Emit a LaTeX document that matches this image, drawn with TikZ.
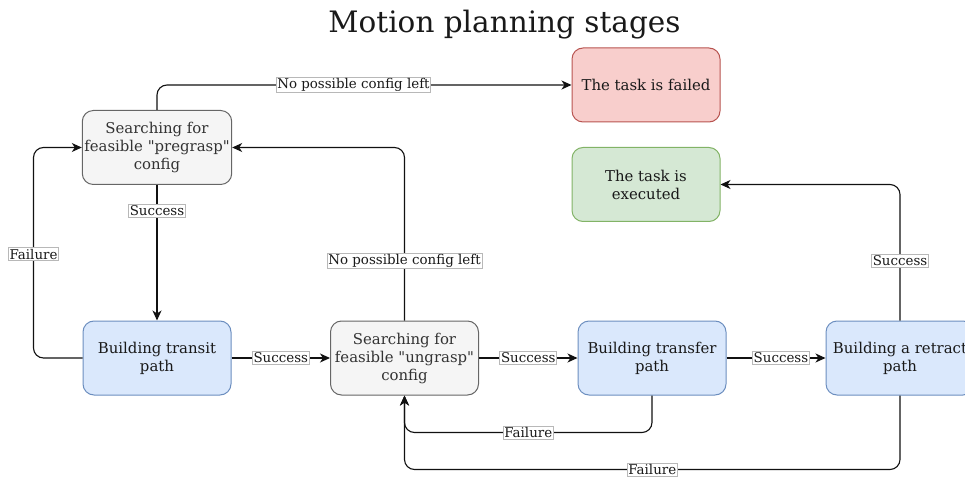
\documentclass[tikz,border=0pt]{standalone}
\usepackage{fontspec}
\setmainfont{DejaVu Serif}[Ligatures=TeXOff]
\usetikzlibrary{arrows.meta,positioning}

\definecolor{greyfill}{HTML}{F5F5F5}
\definecolor{greyline}{HTML}{666666}
\definecolor{greytext}{HTML}{333333}
\definecolor{bluefill}{HTML}{DAE8FC}
\definecolor{blueline}{HTML}{6C8EBF}
\definecolor{redfill}{HTML}{F8CECC}
\definecolor{redline}{HTML}{B85450}
\definecolor{greenfill}{HTML}{D5E8D4}
\definecolor{greenline}{HTML}{82B366}
\definecolor{edgeline}{HTML}{111111}
\definecolor{lblline}{HTML}{B8B8B8}

\tikzset{
  box/.style={draw, rounded corners=11pt, line width=1pt, minimum width=148pt,
    minimum height=74pt, align=center, inner sep=2pt,
    font=\fontsize{14.9pt}{18pt}\selectfont},
  searchbox/.style={box, fill=greyfill, draw=greyline, text=greytext},
  pathbox/.style={box, fill=bluefill, draw=blueline, text=black!90},
  failbox/.style={box, fill=redfill, draw=redline, text=black!90},
  donebox/.style={box, fill=greenfill, draw=greenline, text=black!90},
  flow/.style={draw=edgeline, line width=1.1pt, rounded corners=10pt,
    -{Stealth[length=10pt,width=9pt,inset=3pt]}},
  lbl/.style={fill=white, draw=lblline, line width=0.7pt, inner sep=1.2pt,
    sharp corners, text=black!90, font=\fontsize{13.4pt}{15pt}\selectfont}
}

\begin{document}
\begin{tikzpicture}[x=1pt,y=1pt]
  \useasboundingbox (0,0) rectangle (965,477);
  \clip (0,0) rectangle (965,477);

  \node[font=\fontsize{29.5pt}{33pt}\selectfont, text=black!90] (title) at (504.5,452) {Motion planning stages};

  % stage boxes
  \node[searchbox] (pregrasp) at (157,329.5) {Searching for\\feasible "pregrasp"\\config};
  \node[failbox]   (failed)   at (646,392)   {The task is failed};
  \node[donebox]   (executed) at (646,292.5) {The task is\\executed};
  \node[pathbox]   (transit)  at (157,119)   {Building transit\\path};
  \node[searchbox] (ungrasp)  at (404.5,119) {Searching for\\feasible "ungrasp"\\config};
  \node[pathbox]   (transfer) at (652,119)   {Building transfer\\path};
  \node[pathbox]   (retract)  at (900,119)   {Building a retract\\path};

  % transitions between stages
  \draw[flow] (pregrasp.north) |- (failed.west)
    node[lbl, pos=0.737] (l1) {No possible config left};
  \draw[flow] (pregrasp.south) -- (transit.north)
    node[lbl, pos=0.19] (l2) {Success};
  \draw[flow] (transit.west) -- ++(-49,0) |- (pregrasp.west)
    node[lbl, pos=0.247] (l3) {Failure};
  \draw[flow] (transit.east) -- (ungrasp.west)
    node[lbl, pos=0.5] (l4) {Success};
  \draw[flow] (ungrasp.north) |- (pregrasp.east)
    node[lbl, pos=0.173] (l5) {No possible config left};
  \draw[flow] (ungrasp.east) -- (transfer.west)
    node[lbl, pos=0.5] (l6) {Success};
  \draw[flow] (transfer.east) -- (retract.west)
    node[lbl, pos=0.55] (l7) {Success};
  \draw[flow] (retract.north) |- (executed.east)
    node[lbl, pos=0.22] (l8) {Success};
  \draw[flow] (transfer.south) -- ++(0,-37) -| (ungrasp.south)
    node[lbl, pos=0.25] (l9) {Failure};
  \draw[flow] (retract.south) -- ++(0,-74) -| (ungrasp.south)
    node[lbl, pos=0.25] (l10) {Failure};
\end{tikzpicture}
\end{document}
